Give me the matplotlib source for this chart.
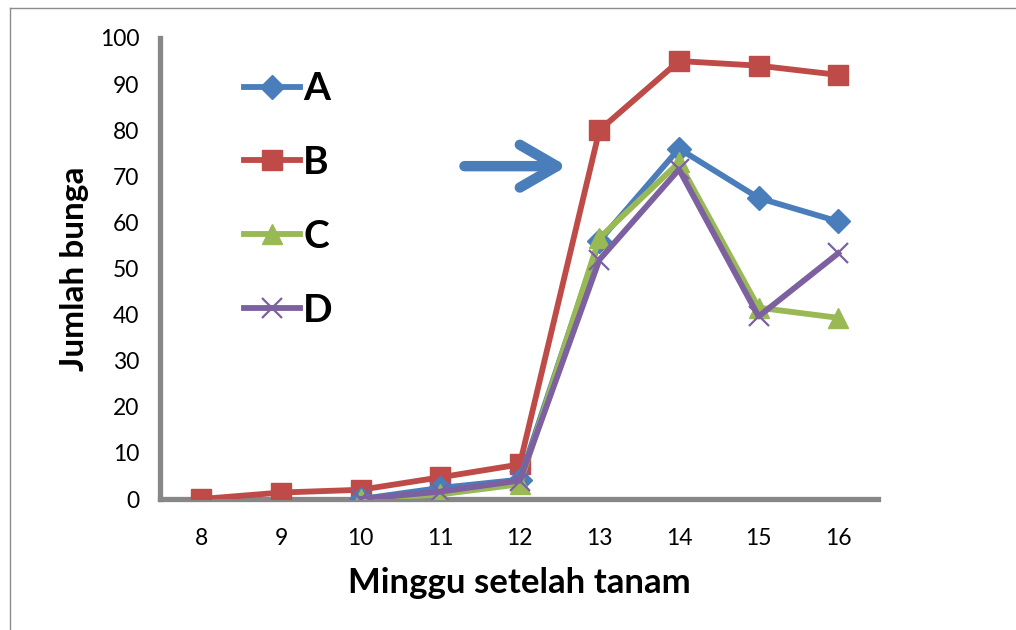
import matplotlib.pyplot as plt
from matplotlib.lines import Line2D

plt.rcParams['font.family'] = ['Lato', 'DejaVu Sans']

# data
weeks = [8, 9, 10, 11, 12, 13, 14, 15, 16]
weeks_acd = [10, 11, 12, 13, 14, 15, 16]
series_a = [0, 2.4, 4.2, 56, 76, 65.3, 60.2]
series_b = [0, 1.4, 2, 4.7, 7.5, 80, 95, 94, 92]
series_c = [0, 1, 3.2, 56.6, 73, 41.5, 39.3]
series_d = [0, 1.6, 4, 51.9, 71.5, 39.6, 53.3]
yticks = [0, 10, 20, 30, 40, 50, 60, 70, 80, 90, 100]

col_a = "#4A7EBB"
col_b = "#BE4B48"
col_c = "#98B954"
col_d = "#7D60A0"
axis_gray = "#878787"

fig = plt.figure(figsize=(10.16, 6.3), dpi=100)
ax = fig.add_axes([160 / 1016, 131 / 630, 718 / 1016, 461 / 630])

lw = 4.2
ax.plot(weeks, series_b, color=col_b, lw=lw, marker="s", ms=14, label="B", zorder=3)
ax.plot(weeks_acd, series_a, color=col_a, lw=lw, marker="D", ms=12, label="A", zorder=4)
ax.plot(weeks_acd, series_c, color=col_c, lw=lw, marker="^", ms=15, label="C", zorder=5)
ax.plot(weeks_acd, series_d, color=col_d, lw=lw, marker="x", ms=14, mew=1.6, label="D", zorder=6)

ax.set_xlim(7.48, 16.5)
ax.set_ylim(0, 100)
ax.set_xticks(weeks)
ax.set_yticks(yticks)
ax.tick_params(length=0, labelsize=16.5)
ax.tick_params(axis="x", pad=21)
ax.tick_params(axis="y", pad=15)
for side in ["top", "right"]:
    ax.spines[side].set_visible(False)
for side in ["left", "bottom"]:
    ax.spines[side].set_color(axis_gray)
    ax.spines[side].set_linewidth(3.8)
ax.set_xlabel("Minggu setelah tanam", fontsize=25, fontweight="bold", labelpad=13)
ax.set_ylabel("Jumlah bunga", fontsize=24, fontweight="bold", labelpad=8)

handles, labels = ax.get_legend_handles_labels()
order = [1, 0, 2, 3]
leg = ax.legend([handles[i] for i in order], [labels[i] for i in order],
                loc="upper left", bbox_to_anchor=(0.117, 0.928), frameon=False,
                borderaxespad=0, borderpad=0,
                prop={"size": 28, "weight": "bold"}, handlelength=1.44,
                handletextpad=0.08, labelspacing=1.0)

# blue arrow pointing to week 13
ax.annotate("", xy=(12.63, 72.2), xytext=(11.27, 72.2),
            arrowprops=dict(arrowstyle="->,head_length=0.95,head_width=0.55",
                            color=col_a, mutation_scale=28, lw=7.5,
                            capstyle="round", joinstyle="round"))

# outer frame
fig.add_artist(Line2D([10 / 1016, 10 / 1016], [0, 1 - 8 / 630], color="#8c8c8c", lw=1))
fig.add_artist(Line2D([10 / 1016, 1], [1 - 8 / 630, 1 - 8 / 630], color="#8c8c8c", lw=1))

fig.savefig("out.png", dpi=100)
